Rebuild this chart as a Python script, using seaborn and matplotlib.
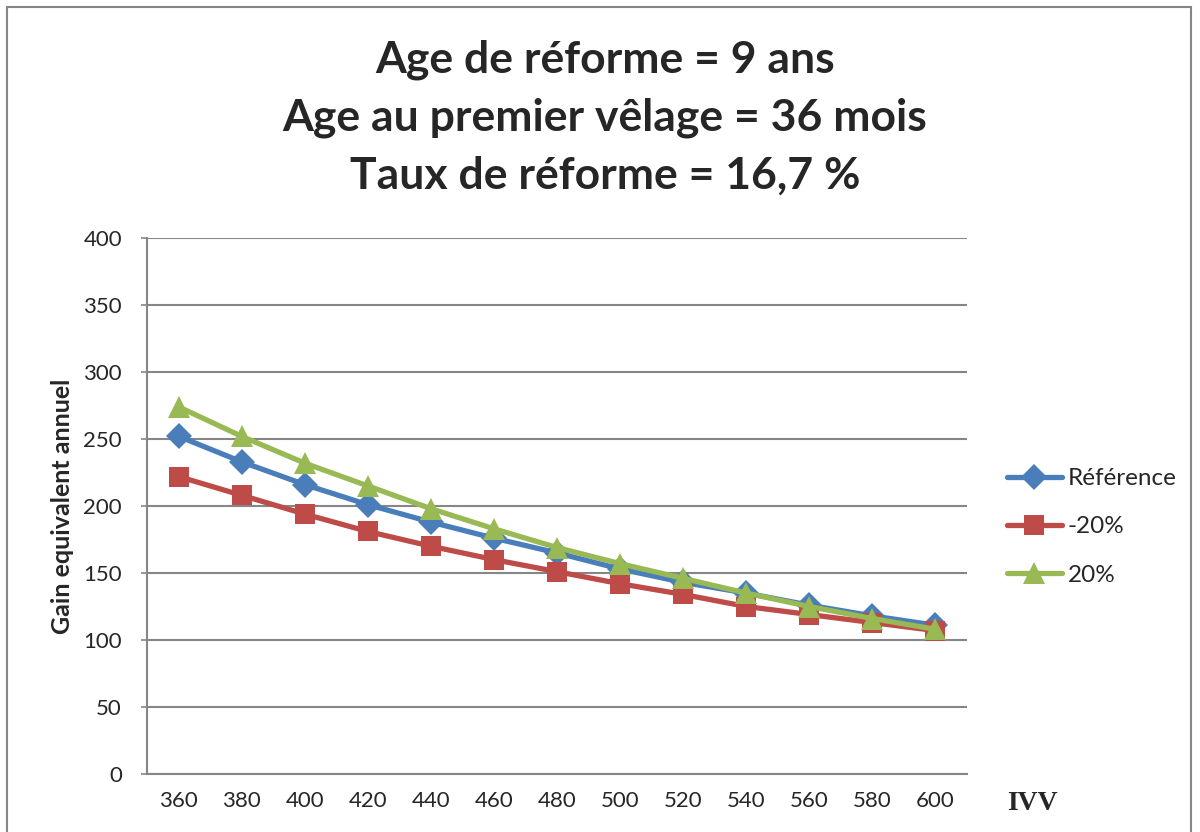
import matplotlib
matplotlib.use("Agg")
import matplotlib.pyplot as plt
import seaborn as sns
import pandas as pd
from matplotlib.patches import Rectangle

# IVV categories (days) and annual equivalent gain for each scenario
ivv = [360, 380, 400, 420, 440, 460, 480, 500, 520, 540, 560, 580, 600]
reference = [252, 233, 216, 201, 188, 176, 165, 153, 143, 135, 126, 118, 111]
minus_20 = [222, 208, 194, 181, 170, 160, 151, 142, 134, 125, 119, 113, 107]
plus_20 = [274, 252, 232, 215, 198, 183, 169, 157, 146, 135, 125, 116, 108]

series_names = ["Référence", "-20%", "20%"]
y_ticks = [0, 50, 100, 150, 200, 250, 300, 350, 400]

rows = []
for name, vals in zip(series_names, [reference, minus_20, plus_20]):
    for i, (x, v) in enumerate(zip(ivv, vals)):
        rows.append({"pos": i, "IVV": x, "gain": v, "serie": name})
df = pd.DataFrame(rows)

sns.set_theme(style="white")
plt.rcParams["font.family"] = ["Lato", "DejaVu Sans"]

fig = plt.figure(figsize=(12, 8.32), dpi=100)
ax = fig.add_axes([147 / 1200, 1 - 774 / 832, 820 / 1200, 536 / 832])

palette = {"Référence": "#4A7EBB", "-20%": "#BE4B48", "20%": "#98B954"}
markers = {"Référence": "D", "-20%": "s", "20%": "^"}
sizes = {"Référence": 13, "-20%": 15, "20%": 16}

for name in series_names:
    sub = df[df["serie"] == name]
    sns.lineplot(data=sub, x="pos", y="gain", ax=ax, color=palette[name],
                 linewidth=3.8, marker=markers[name], markersize=sizes[name],
                 markeredgewidth=0, label=name, zorder=3)

ax.set_xlim(-0.5, len(ivv) - 0.5)
ax.set_ylim(0, 400)
ax.set_xticks(range(len(ivv)))
ax.set_xticklabels([str(v) for v in ivv], fontsize=16)
ax.set_yticks(y_ticks)
ax.set_yticklabels([str(v) for v in y_ticks], fontsize=16)
ax.tick_params(axis="x", length=0, pad=12)
ax.tick_params(axis="y", length=4, width=1.2, color="#868686", direction="out", pad=14, left=True)

ax.grid(axis="y", color="#868686", linewidth=1.5)
ax.grid(axis="x", visible=False)
ax.set_axisbelow(True)
for side in ["top", "right"]:
    ax.spines[side].set_visible(False)
for side in ["left", "bottom"]:
    ax.spines[side].set_color("#868686")
    ax.spines[side].set_linewidth(1.5)

ax.set_xlabel("")
ax.set_ylabel("Gain equivalent annuel", fontsize=18, fontweight="bold", labelpad=7)

leg = ax.legend(loc="center left", bbox_to_anchor=(1.0364, 0.461), frameon=False,
                fontsize=17.5, handlelength=2.27, handletextpad=0.25, labelspacing=1.12,
                borderaxespad=0)

fig.text(1032 / 1200, 1 - 803 / 832, "IVV", fontsize=20, fontweight="bold",
         family=["Liberation Serif", "DejaVu Serif"], ha="center", va="center")

title_lines = ["Age de réforme = 9 ans", "Age au premier vêlage = 36 mois",
               "Taux de réforme = 16,7 %"]
for k, line in enumerate(title_lines):
    fig.text(605 / 1200, 1 - (60 + 58 * k) / 832, line, fontsize=32,
             fontweight="bold", ha="center", va="center")

# chart frame
fig.patches.append(Rectangle((7 / 1200, -0.05), 1184 / 1200, 1 - 7 / 832 + 0.05,
                             transform=fig.transFigure, fill=False,
                             edgecolor="#868686", linewidth=1.5))

fig.savefig("out.png", dpi=100, facecolor="white")
